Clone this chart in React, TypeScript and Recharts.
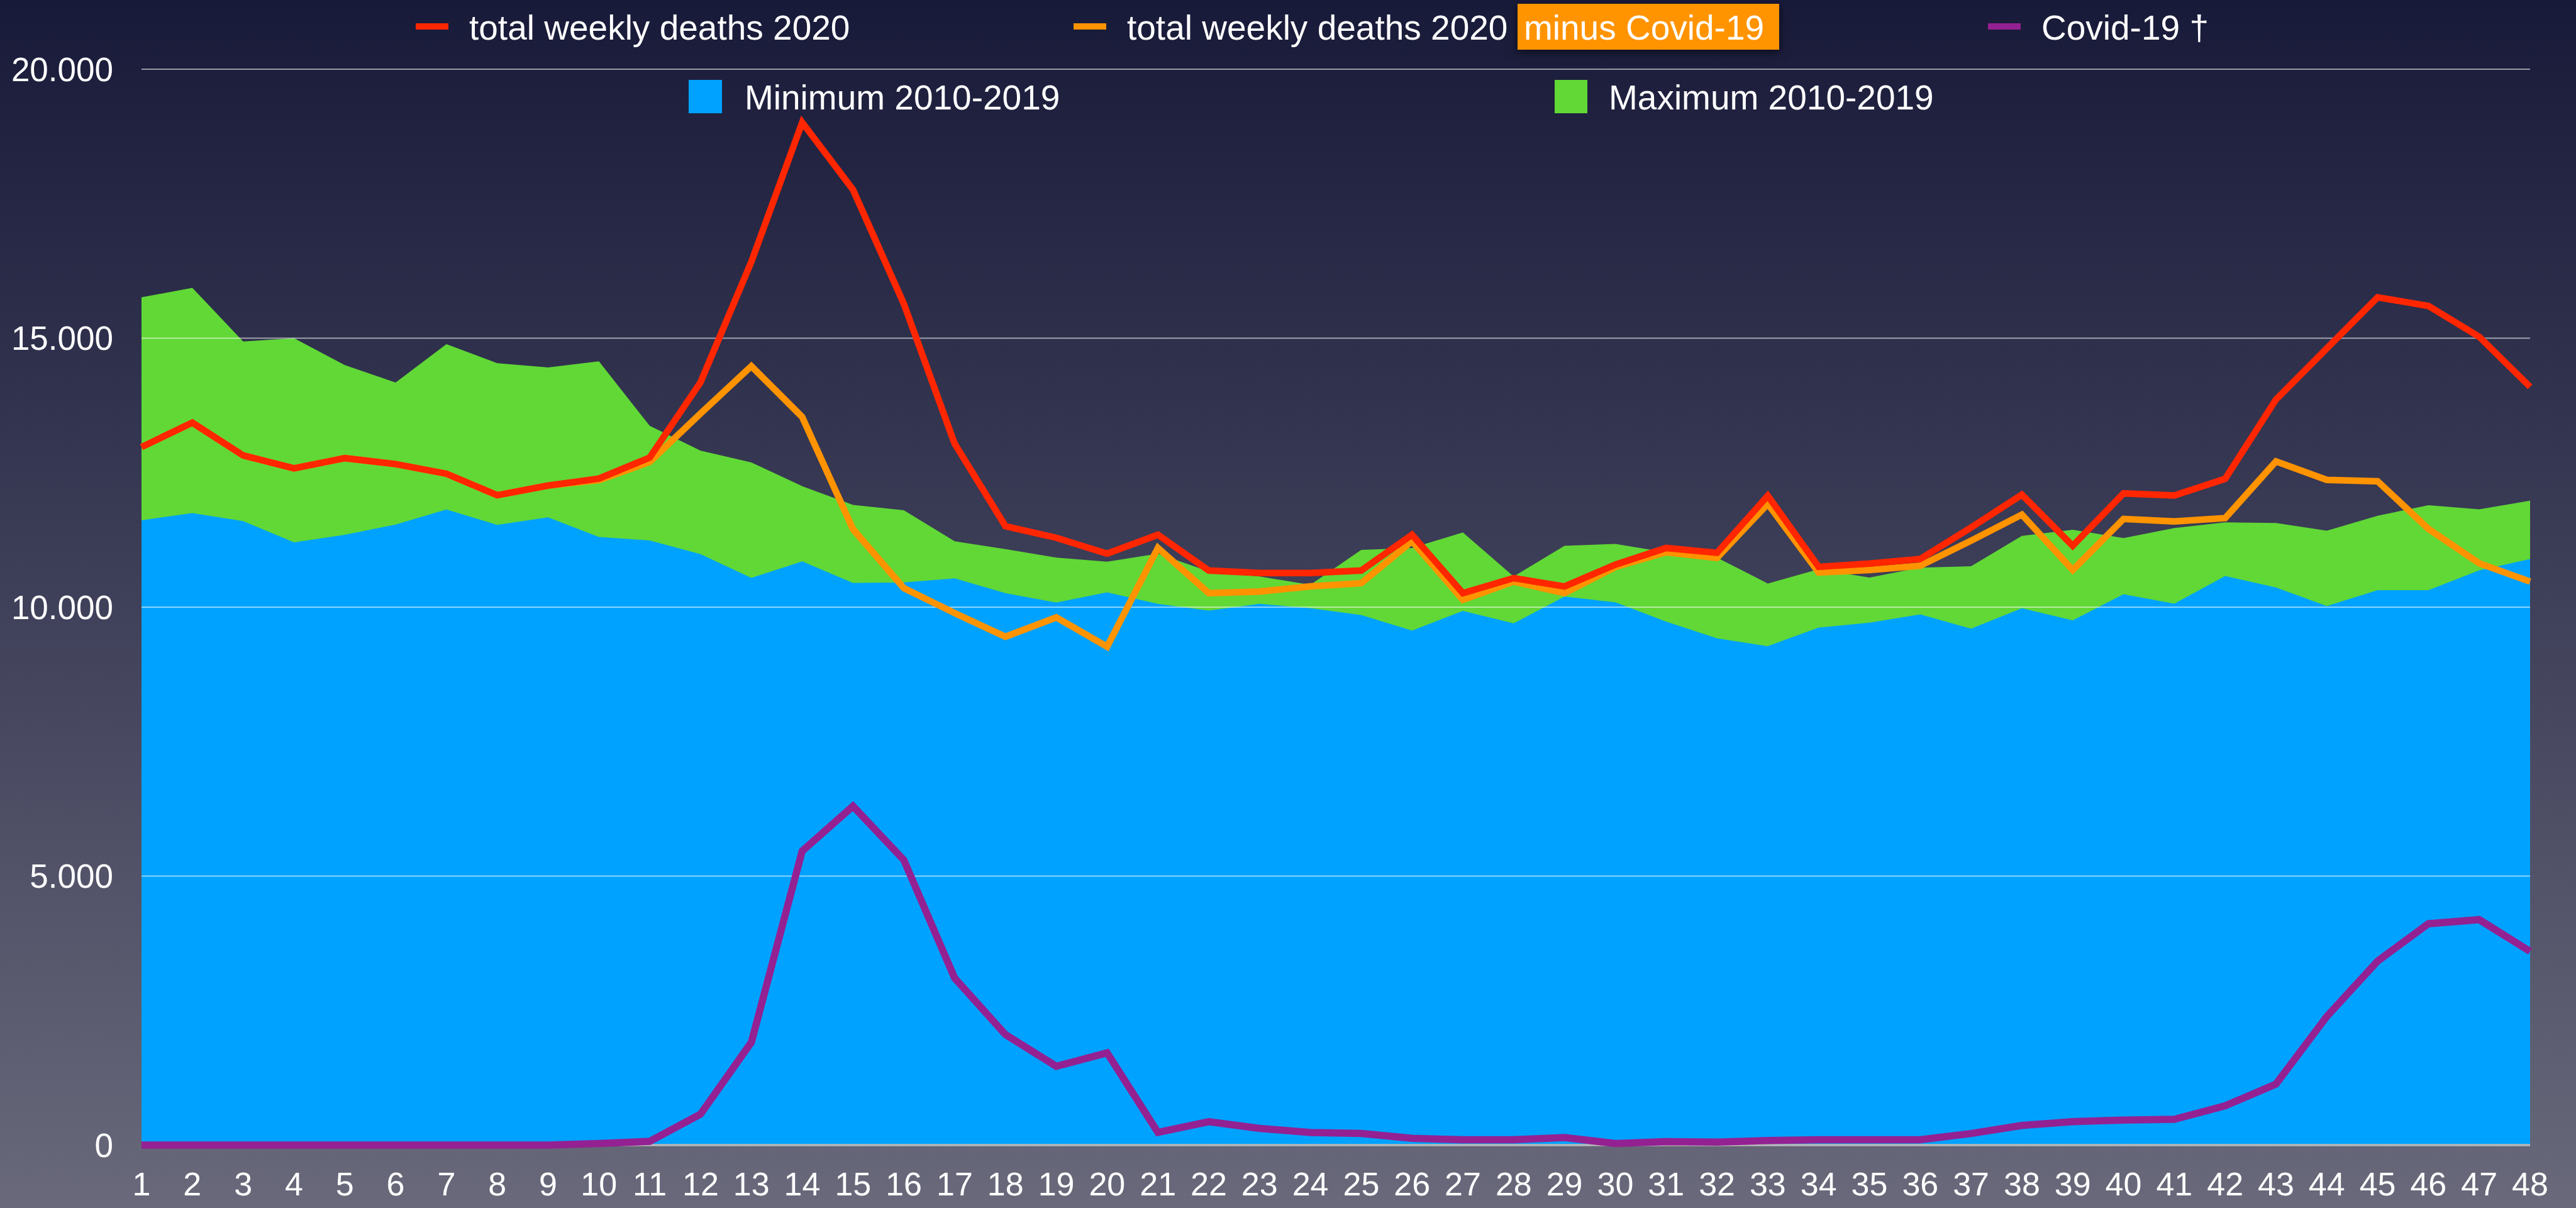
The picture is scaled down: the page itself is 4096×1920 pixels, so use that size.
import React from "react";
import { ComposedChart, Area, Line, XAxis, YAxis, ReferenceLine } from "recharts";

// weekly deaths 2020 vs. min/max of 2010-2019

if (typeof document !== "undefined") document.body.style.margin = "0";

const FONT = "'Liberation Sans', Arial, Helvetica, sans-serif";

const weeks = [
  1, 2, 3, 4, 5, 6, 7, 8, 9, 10, 11, 12, 13, 14, 15, 16, 17, 18, 19, 20, 21, 22, 23, 24,
  25, 26, 27, 28, 29, 30, 31, 32, 33, 34, 35, 36, 37, 38, 39, 40, 41, 42, 43, 44, 45, 46, 47, 48,
];

const maximum2010to2019 = [
  15760, 15935, 14940, 15000, 14500, 14175, 14890, 14535, 14455, 14570, 13370, 12910,
  12690, 12250, 11900, 11800, 11225, 11080, 10920, 10845, 10995, 10665, 10570, 10415,
  11065, 11100, 11390, 10570, 11140, 11175, 11020, 10920, 10440, 10705, 10550, 10735,
  10760, 11325, 11440, 11285, 11470, 11575, 11565, 11420, 11700, 11895, 11820, 11980,
];

const minimum2010to2019 = [
  11615, 11750, 11600, 11205, 11345, 11535, 11815, 11530, 11670, 11305, 11240, 10985,
  10545, 10850, 10450, 10460, 10535, 10260, 10085, 10275, 10060, 9935, 10060, 9980,
  9855, 9565, 9930, 9700, 10195, 10090, 9730, 9420, 9275, 9620, 9710, 9865,
  9600, 9980, 9755, 10240, 10065, 10580, 10365, 10020, 10315, 10315, 10685, 10895,
];

const totalDeaths2020 = [
  12975, 13430, 12820, 12580, 12770, 12660, 12480, 12080, 12260, 12390, 12780, 14180,
  16420, 19010, 17760, 15640, 13040, 11505, 11290, 10995, 11345, 10680, 10635, 10635,
  10680, 11345, 10260, 10540, 10385, 10790, 11100, 11010, 12070, 10750, 10810, 10895,
  11480, 12090, 11140, 12115, 12075, 12385, 13860, 14810, 15760, 15600, 15025, 14095,
];

const totalMinusCovid2020 = [
  12975, 13430, 12820, 12580, 12770, 12660, 12480, 12080, 12260, 12360, 12700, 13600,
  14480, 13535, 11450, 10355, 9890, 9450, 9810, 9265, 11100, 10260, 10290, 10385,
  10445, 11225, 10135, 10475, 10260, 10745, 11020, 10915, 11920, 10645, 10690, 10770,
  11235, 11720, 10690, 11640, 11595, 11655, 12710, 12365, 12340, 11455, 10815, 10475,
];

const covidDeaths = [
  0, 0, 0, 0, 0, 0, 0, 0, 0, 30, 70, 575,
  1910, 5465, 6300, 5300, 3105, 2055, 1465, 1715, 235, 435, 310, 235,
  215, 125, 100, 100, 140, 30, 65, 55, 85, 100, 100, 100,
  215, 365, 435, 465, 480, 730, 1135, 2390, 3420, 4115, 4190, 3600,
];

const yTicks = [0, 5000, 10000, 15000, 20000];
const gridValues = [5000, 10000, 15000, 20000];

const data = weeks.map((week, i) => ({
  week,
  max: maximum2010to2019[i],
  min: minimum2010to2019[i],
  total: totalDeaths2020[i],
  minusCovid: totalMinusCovid2020[i],
  covid: covidDeaths[i],
}));

const fmt = (v: number) => String(v).replace(/\B(?=(\d{3})+(?!\d))/g, ".");

const RED = "#ff2600";
const ORANGE = "#ff9300";
const PURPLE = "#942192";
const BLUE = "#00a2ff";
const GREEN = "#61d836";

const txt = (left: number, top: number): React.CSSProperties => ({
  position: "absolute",
  left,
  top,
  fontSize: 55,
  lineHeight: "55px",
  color: "#fff",
  whiteSpace: "nowrap",
});

const swatch = (left: number, top: number, w: number, h: number, color: string): React.CSSProperties => ({
  position: "absolute",
  left,
  top,
  width: w,
  height: h,
  background: color,
});

export default function App() {
  return (
    <div
      style={{
        position: "relative",
        width: 4096,
        height: 1920,
        overflow: "hidden",
        fontFamily: FONT,
        background: "linear-gradient(to bottom, #181a39 0%, #3b3c56 45%, #69697b 100%)",
      }}
    >
      <ComposedChart
        width={4096}
        height={1920}
        data={data}
        margin={{ top: 110, right: 73, bottom: 20, left: 0 }}
      >
        <XAxis
          dataKey="week"
          type="number"
          domain={[1, 48]}
          ticks={weeks}
          interval={0}
          axisLine={false}
          tickLine={false}
          tickSize={0}
          tickMargin={43}
          height={80}
          tick={{ fill: "#fff", fontSize: 52, fontFamily: FONT }}
        />
        <YAxis
          domain={[0, 20000]}
          ticks={yTicks}
          width={225}
          axisLine={false}
          tickLine={false}
          tickSize={0}
          tickMargin={45}
          tickFormatter={fmt}
          tick={{ fill: "#fff", fontSize: 53, fontFamily: FONT }}
        />
        <Area
          dataKey="max"
          type="linear"
          stroke="none"
          fill={GREEN}
          fillOpacity={1}
          baseValue={0}
          isAnimationActive={false}
        />
        <Area
          dataKey="min"
          type="linear"
          stroke="none"
          fill={BLUE}
          fillOpacity={1}
          baseValue={0}
          isAnimationActive={false}
        />
        {gridValues.map((v) => (
          <ReferenceLine key={v} y={v} stroke="#ffffff" strokeOpacity={0.55} strokeWidth={2} zIndex={150} />
        ))}
        <ReferenceLine y={0} stroke="#b8b8b8" strokeWidth={3.3} zIndex={150} />
        <Line dataKey="covid" type="linear" stroke={PURPLE} strokeWidth={11.5} dot={false} activeDot={false} isAnimationActive={false} />
        <Line dataKey="minusCovid" type="linear" stroke={ORANGE} strokeWidth={10.5} dot={false} activeDot={false} isAnimationActive={false} />
        <Line dataKey="total" type="linear" stroke={RED} strokeWidth={10.5} dot={false} activeDot={false} isAnimationActive={false} />
      </ComposedChart>

      {/* legend, row 1 */}
      <div style={swatch(661, 37, 52, 10, RED)} />
      <div style={txt(746, 17)}>total weekly deaths 2020</div>
      <div style={swatch(1707, 37, 52, 10, ORANGE)} />
      <div style={txt(1792, 17)}>total weekly deaths 2020</div>
      <div
        style={{
          ...swatch(2413, 6, 416, 73, ORANGE),
          boxShadow: "0 4px 14px rgba(0,0,0,0.55)",
        }}
      />
      <div style={txt(2423, 17)}>minus Covid-19</div>
      <div style={swatch(3161, 37, 52, 10, PURPLE)} />
      <div style={txt(3246, 17)}>Covid-19 †</div>

      {/* legend, row 2 */}
      <div style={swatch(1095, 127, 53, 53, BLUE)} />
      <div style={txt(1184, 128)}>Minimum 2010-2019</div>
      <div style={swatch(2472, 127, 52, 53, GREEN)} />
      <div style={txt(2558, 128)}>Maximum 2010-2019</div>
    </div>
  );
}
